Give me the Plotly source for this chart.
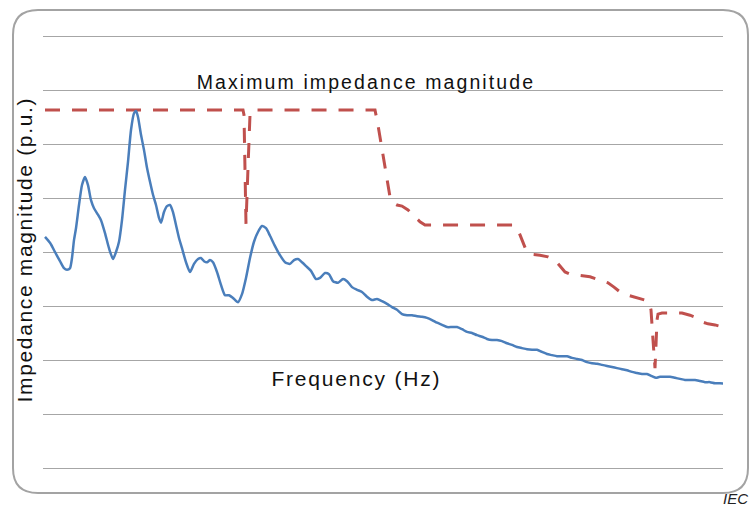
import plotly.graph_objects as go

# Measured impedance magnitude versus frequency (frequency in Hz, magnitude in p.u. grid steps)
freq_meas = [
    2, 7, 12, 17, 21, 24, 27, 29, 31, 33,
    36, 39, 42, 45, 48, 51, 55, 58, 62, 66,
    70, 73, 76, 79, 82, 85, 88, 91, 93, 95,
    98, 101, 104, 107, 110, 113, 116, 118, 121, 124,
    127, 130, 133, 136, 139, 143, 147, 151, 155, 158,
    161, 164, 167, 170, 174, 178, 182, 186, 190, 195,
    199, 203, 207, 211, 215, 219, 223, 227, 232, 237,
    242, 247, 251, 255, 259, 263, 268, 273, 277, 282,
    286, 290, 295, 300, 304, 309, 314, 319, 324, 329,
    334, 339, 344, 349, 354, 359, 364, 369, 374, 379,
    384, 389, 394, 399, 404, 409, 414, 419, 424, 429,
    434, 439, 444, 449, 454, 459, 464, 469, 474, 479,
    484, 489, 494, 499, 504, 509, 514, 519, 524, 529,
    534, 539, 544, 549, 554, 559, 564, 569, 574, 579,
    584, 589, 594, 599, 604, 609, 613, 617, 622, 627,
    632, 637, 642, 647, 652, 657, 662, 667, 672, 677,
    682,
]
mag_meas = [
    4.28, 4.17, 4.00, 3.83, 3.70, 3.67, 3.70, 3.89, 4.22, 4.44,
    4.87, 5.24, 5.39, 5.24, 4.96, 4.81, 4.69, 4.59, 4.35, 4.07,
    3.87, 4.00, 4.19, 4.59, 5.15, 5.67, 6.26, 6.57, 6.61, 6.50,
    6.17, 5.89, 5.56, 5.30, 5.06, 4.87, 4.63, 4.54, 4.74, 4.85,
    4.87, 4.74, 4.50, 4.26, 4.07, 3.81, 3.63, 3.78, 3.87, 3.89,
    3.83, 3.81, 3.85, 3.81, 3.63, 3.39, 3.20, 3.20, 3.15, 3.07,
    3.22, 3.52, 3.89, 4.19, 4.37, 4.48, 4.44, 4.30, 4.11, 3.94,
    3.81, 3.78, 3.85, 3.87, 3.81, 3.74, 3.65, 3.50, 3.52, 3.61,
    3.59, 3.46, 3.43, 3.50, 3.46, 3.35, 3.30, 3.26, 3.17, 3.11,
    3.13, 3.09, 3.04, 2.98, 2.93, 2.85, 2.83, 2.83, 2.81, 2.80,
    2.78, 2.74, 2.69, 2.65, 2.61, 2.61, 2.61, 2.57, 2.52, 2.50,
    2.46, 2.43, 2.39, 2.37, 2.37, 2.35, 2.31, 2.28, 2.24, 2.22,
    2.20, 2.19, 2.19, 2.15, 2.11, 2.09, 2.07, 2.07, 2.07, 2.04,
    2.02, 2.00, 1.96, 1.94, 1.93, 1.91, 1.89, 1.87, 1.85, 1.83,
    1.81, 1.78, 1.76, 1.74, 1.74, 1.70, 1.67, 1.69, 1.69, 1.69,
    1.67, 1.65, 1.63, 1.63, 1.63, 1.61, 1.59, 1.59, 1.57, 1.57,
    1.56,
]

# Maximum impedance magnitude envelope
freq_max = [
    2, 200, 201, 202, 203, 205, 207, 209,
    332, 335, 339, 343, 347, 350, 354, 359, 365, 371, 377, 382,
    470, 475, 479, 483, 487, 497, 505, 512, 517, 522,
    527, 535, 547, 557, 565, 571, 577, 585, 595, 602,
    606, 608, 610, 612, 613, 614, 615, 619,
    639, 647, 654, 660, 665, 672, 680,
]
mag_max = [
    6.63, 6.63, 6.54, 5.70, 4.52, 5.56, 6.54, 6.63,
    6.63, 6.35, 5.89, 5.43, 5.02, 4.91, 4.87, 4.85, 4.78, 4.67, 4.56, 4.50,
    4.50, 4.41, 4.22, 4.04, 3.96, 3.94, 3.91, 3.85, 3.74, 3.63,
    3.59, 3.57, 3.54, 3.48, 3.43, 3.35, 3.26, 3.20, 3.15, 3.11,
    3.07, 2.93, 2.37, 1.85, 2.28, 2.74, 2.85, 2.87,
    2.87, 2.83, 2.78, 2.70, 2.67, 2.65, 2.61,
]

title_text = "Maximum impedance magnitude"
x_label = "Frequency (Hz)"
y_label = "Impedance magnitude (p.u.)"
credit = "IEC"

W, H = 750, 507
ML, MR, MT, MB = 43, 27, 33, 36
PW, PH = W - ML - MR, H - MT - MB


def paper_x(p):
    return (p - ML) / PW


def paper_y(p):
    return (H - MB - p) / PH


FONT = "Liberation Sans, Arial, sans-serif"

fig = go.Figure()
fig.add_trace(go.Scatter(
    x=freq_max, y=mag_max, mode="lines",
    line=dict(color="#C0504D", width=3, dash="15px,12px"),
    hoverinfo="skip", showlegend=False,
))
fig.add_trace(go.Scatter(
    x=freq_meas, y=mag_meas, mode="lines",
    line=dict(color="#4A7EBB", width=2.5, shape="spline", smoothing=0.6),
    hoverinfo="skip", showlegend=False,
))

# Rounded chart frame
L, T, R, B, rad = 13, 10, 748, 493, 25


def P(x, y):
    return f"{paper_x(x):.5f},{paper_y(y):.5f}"


frame = (
    f"M{P(L + rad, T)} L{P(R - rad, T)} Q{P(R, T)} {P(R, T + rad)} "
    f"L{P(R, B - rad)} Q{P(R, B)} {P(R - rad, B)} L{P(L + rad, B)} "
    f"Q{P(L, B)} {P(L, B - rad)} L{P(L, T + rad)} Q{P(L, T)} {P(L + rad, T)} Z"
)

shapes = [
    dict(type="path", path=frame, xref="paper", yref="paper",
         line=dict(color="#A3A3A3", width=2), layer="above"),
    # white band behind the envelope label
    dict(type="rect", xref="paper", yref="paper",
         x0=paper_x(190), x1=paper_x(543), y0=paper_y(97), y1=paper_y(72),
         fillcolor="white", line=dict(width=0), layer="between"),
]

annotations = [
    dict(text=title_text, x=paper_x(366), y=paper_y(82), xref="paper", yref="paper",
         showarrow=False, xanchor="center", yanchor="middle",
         font=dict(family=FONT, size=19.5, color="#111111")),
    dict(text=x_label, x=paper_x(356), y=paper_y(378), xref="paper", yref="paper",
         showarrow=False, xanchor="center", yanchor="middle",
         font=dict(family=FONT, size=21, color="#111111")),
    dict(text=y_label, x=paper_x(25), y=paper_y(250), xref="paper", yref="paper",
         showarrow=False, xanchor="center", yanchor="middle", textangle=-90,
         font=dict(family=FONT, size=21, color="#111111")),
    dict(text=credit, x=paper_x(721), y=paper_y(498), xref="paper", yref="paper",
         showarrow=False, xanchor="left", yanchor="middle",
         font=dict(family=FONT, size=15, color="#222222", style="italic")),
]

fig.update_layout(
    width=W, height=H,
    margin=dict(l=ML, r=MR, t=MT, b=MB, pad=0),
    paper_bgcolor="white", plot_bgcolor="white",
    xaxis=dict(range=[0, 680], showgrid=False, zeroline=False, showline=False,
               showticklabels=False, ticks=""),
    yaxis=dict(range=[-1 / 18, 8 + 1 / 18], dtick=1, tick0=0, showgrid=True,
               gridcolor="#A6A6A6", gridwidth=1, zeroline=False, showline=False,
               showticklabels=False, ticks=""),
    shapes=shapes,
    annotations=annotations,
    showlegend=False,
)

# Expanded character spacing for the chart labels
spacing_js = """
var spacing = {
  "Maximum impedance magnitude": "2.1px",
  "Frequency (Hz)": "1.8px",
  "Impedance magnitude (p.u.)": "1.65px"
};
document.querySelectorAll('.annotation-text').forEach(function (t) {
  var s = spacing[t.textContent];
  if (s) { t.style.letterSpacing = s; }
});
"""

fig.write_html("out.html", config={"staticPlot": True}, post_script=spacing_js)
